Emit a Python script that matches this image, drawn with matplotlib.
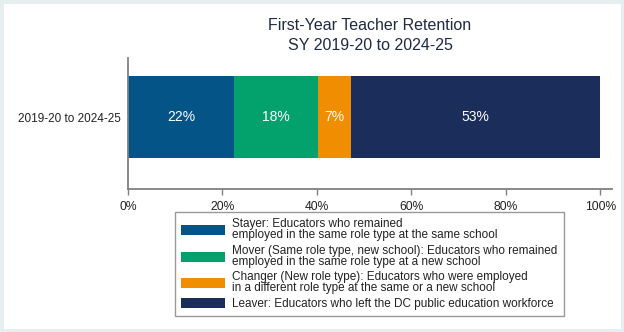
import matplotlib
matplotlib.use("Agg")
import matplotlib.pyplot as plt
from matplotlib.patches import Rectangle

plt.rcParams['font.family'] = ['Liberation Sans', 'DejaVu Sans']

category = ["2019-20 to 2024-25"]
series_names = [
    "Stayer: Educators who remained\nemployed in the same role type at the same school",
    "Mover (Same role type, new school): Educators who remained\nemployed in the same role type at a new school",
    "Changer (New role type): Educators who were employed\nin a different role type at the same or a new school",
    "Leaver: Educators who left the DC public education workforce",
]
values = [22.4, 17.9, 6.9, 52.8]
value_labels = ["22%", "18%", "7%", "53%"]
colors = ["#045487", "#03a26c", "#f18d00", "#1b2d5a"]
xticks = [0, 20, 40, 60, 80, 100]
xticklabels = ["0%", "20%", "40%", "60%", "80%", "100%"]

W, H = 624, 332
fig = plt.figure(figsize=(W / 100, H / 100), dpi=100)
fig.patch.set_facecolor("white")
fig.add_artist(Rectangle((0, 0), 1, 1, transform=fig.transFigure, fill=False,
                         edgecolor="#e6eef0", linewidth=5))

ax = fig.add_axes([128 / W, 1 - 189 / H, (612 - 128) / W, (189 - 58) / H])
ax.set_xlim(0, 102.5)
ax.set_ylim(-0.878, 0.72)

left = 0
handles = []
for v, lab, c, name in zip(values, value_labels, colors, series_names):
    b = ax.barh(0, v, left=left, height=1.0, color=c, label=name)
    handles.append(b)
    ax.text(left + v / 2, 0, lab, ha="center", va="center", color="white", fontsize=10)
    left += v

ax.set_yticks([0])
ax.set_yticklabels(category, fontsize=8.45, color="#222222")
ax.tick_params(axis="y", length=0, pad=5)
ax.set_xticks(xticks)
ax.set_xticklabels(xticklabels, fontsize=8.7, color="#222222")
ax.tick_params(axis="x", length=4, color="#808080", width=1, pad=5)
for s in ["top", "right"]:
    ax.spines[s].set_visible(False)
for s in ["left", "bottom"]:
    ax.spines[s].set_color("#808080")
    ax.spines[s].set_linewidth(1.3)

fig.text(0.5 + 58 / W, 1 - 26 / H, "First-Year Teacher Retention", ha="center", va="center",
         fontsize=11.5, color="#1f2a44")
fig.text(0.5 + 58 / W, 1 - 45 / H, "SY 2019-20 to 2024-25", ha="center", va="center",
         fontsize=11.5, color="#1f2a44")

leg = fig.legend(handles=handles, loc="upper left",
                 bbox_to_anchor=(175 / W, 1 - 212 / H), fontsize=8.45,
                 frameon=True, fancybox=False, edgecolor="#808080",
                 handlelength=3.75, handleheight=0.95, handletextpad=0.55,
                 labelspacing=0.3, borderpad=0.55, borderaxespad=0)
leg.get_frame().set_linewidth(1.0)
for t in leg.get_texts():
    t.set_linespacing(0.88)
    t.set_color("#222222")

fig.savefig("out.png", dpi=100)
